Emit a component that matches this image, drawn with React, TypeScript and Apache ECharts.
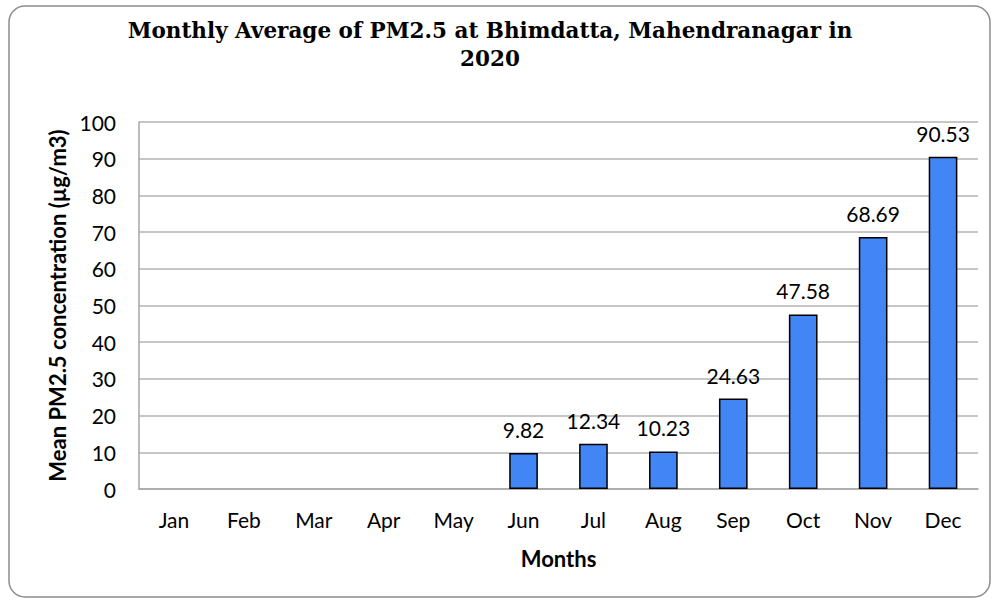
import React, { useEffect, useRef } from "react";
import * as echarts from "echarts";

const months = ["Jan", "Feb", "Mar", "Apr", "May", "Jun", "Jul", "Aug", "Sep", "Oct", "Nov", "Dec"];
const pm25: (number | null)[] = [null, null, null, null, null, 9.82, 12.34, 10.23, 24.63, 47.58, 68.69, 90.53];
const titleLines = ["Monthly Average of PM2.5 at Bhimdatta, Mahendranagar in", "2020"];
const yAxisName = "Mean PM2.5 concentration (µg/m3)";
const xAxisName = "Months";

export default function App() {
  const ref = useRef<HTMLDivElement>(null);
  useEffect(() => {
    document.body.style.margin = "0";
    const chart = echarts.init(ref.current!, undefined, { renderer: "svg" });
    chart.setOption({
      animation: false,
      backgroundColor: "#ffffff",
      textStyle: { fontFamily: "Lato" },
      graphic: [
        {
          type: "rect",
          shape: { x: 9, y: 6, width: 981, height: 591, r: 16 },
          style: { fill: "none", stroke: "#8c8c8c", lineWidth: 1.5 },
          z: 0,
        },
        {
          type: "text",
          x: 490,
          y: 16,
          style: {
            text: titleLines.join("\n"),
            textAlign: "center",
            fontFamily: "DejaVu Serif",
            fontWeight: "bold",
            fontSize: 21.5,
            lineHeight: 28,
            fill: "#000",
          },
        },
      ],
      grid: { left: 139, right: 21, top: 122, bottom: 112 },
      xAxis: {
        type: "category",
        data: months,
        name: xAxisName,
        nameLocation: "middle",
        nameGap: 58,
        nameTextStyle: { fontFamily: "Lato", fontWeight: "bold", fontSize: 22, color: "#000" },
        axisLine: { lineStyle: { color: "#a6a6a6", width: 1.5 } },
        axisTick: { show: false },
        axisLabel: { color: "#000", fontSize: 21, fontFamily: "Lato", margin: 20 },
      },
      yAxis: {
        type: "value",
        min: 0,
        max: 100,
        interval: 10,
        name: yAxisName,
        nameLocation: "middle",
        nameGap: 62,
        nameTextStyle: { fontFamily: "Lato", fontWeight: "bold", fontSize: 22, color: "#000" },
        axisLine: { show: true, lineStyle: { color: "#a6a6a6", width: 1.5 } },
        axisTick: { show: false },
        axisLabel: { color: "#000", fontSize: 21, fontFamily: "Lato", margin: 23 },
        splitLine: { lineStyle: { color: "#b3b3b3", width: 1.5 } },
      },
      series: [
        {
          type: "bar",
          data: pm25,
          barWidth: "41%",
          itemStyle: { color: "#4285f4", borderColor: "#000", borderWidth: 1.5 },
          label: {
            show: true,
            position: "top",
            distance: 13,
            color: "#000",
            fontSize: 21,
            fontFamily: "Lato",
            formatter: (p: any) => (p.value == null ? "" : p.value.toFixed(2)),
          },
        },
      ],
    });
    return () => chart.dispose();
  }, []);
  return <div ref={ref} style={{ width: 999, height: 601 }} />;
}
